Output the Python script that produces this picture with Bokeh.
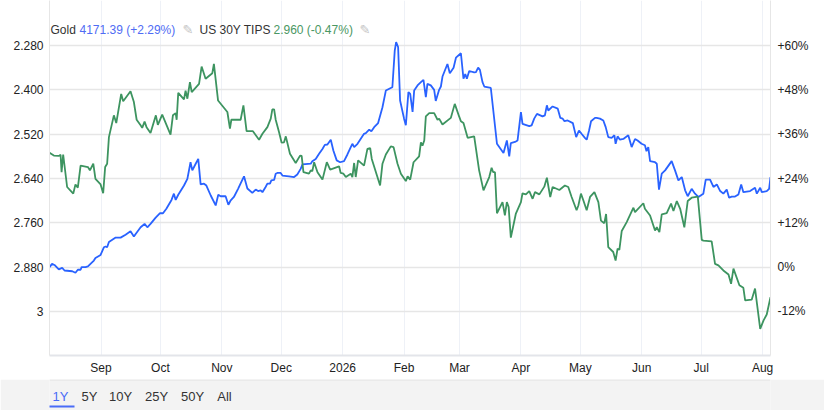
import pandas as pd
from bokeh.plotting import figure
from bokeh.models import (Range1d, LinearAxis, FixedTicker, Label, BoxAnnotation,
                          Span, ColumnDataSource)
from bokeh.layouts import column
from bokeh.embed import file_html
from bokeh.resources import INLINE

# ---------------- data ----------------
START = pd.Timestamp("2025-08-06")
SPAN_DAYS = 364

# Gold: days since START, % change since START (right axis)
gold_days = [0, 1.3, 2.5, 4.7, 6.4, 7.6, 11.5, 13.1, 14.3, 15.7, 16.2, 18.2, 19.4, 20.7, 22.4,
             23.2, 25.8, 27.5, 28.3, 29.1, 30.0, 33.4, 35.9, 38.4, 40.9, 42.6, 43.5, 46.0, 48.0,
             49.4, 51.0, 53.6, 55.8, 57.3, 59.0, 61.6, 62.8, 63.7, 65.0, 67.9, 69.6, 71.2, 72.1,
             73.8, 75.1, 76.3, 78.0, 79.2, 81.4, 83.9, 85.2, 86.4, 88.9, 90.3, 91.5, 93.1, 95.2,
             96.5, 98.2, 99.9, 102.4, 104.1, 105.3, 106.6, 107.5, 109.1, 110.0, 111.3, 112.0,
             113.4, 114.2, 115.0, 116.7, 117.6, 120.9, 123.5, 125.1, 126.8, 127.7, 131.9, 132.7,
             134.4, 136.1, 137.8, 139.0, 140.3, 142.0, 143.3, 145.0, 146.7, 148.7, 150.4, 152.1,
             152.9, 153.8, 155.5, 158.8, 159.7, 161.4, 162.5, 163.9, 165.9, 168.1, 169.8, 172.3,
             173.1, 174.3, 175.0, 176.0, 177.0, 179.0, 179.9, 181.2, 182.1, 183.3, 184.1, 185.8,
             187.5, 188.8, 190.0, 190.8, 192.5, 194.2, 195.0, 196.7, 197.6, 198.4, 200.9, 202.1,
             204.0, 205.2, 207.7, 209.0, 209.9, 210.7, 211.9, 214.4, 215.3, 216.4, 217.3, 218.6,
             219.5, 222.8, 225.9, 229.2, 230.9, 232.1, 232.9, 235.4, 236.3, 238.0, 238.8, 242.2,
             243.4, 244.7, 246.1, 248.9, 250.1, 251.1, 251.8, 254.0, 256.6, 257.9, 259.1, 260.0,
             261.6, 264.2, 265.9, 267.3, 268.6, 270.3, 271.2, 272.4, 273.4, 275.4, 276.2, 277.9,
             279.6, 280.8, 282.1, 283.8, 285.2, 285.8, 286.8, 288.0, 289.7, 292.2, 293.9, 295.6,
             296.9, 298.9, 300.6, 301.4, 302.3, 303.2, 305.7, 306.6, 307.7, 309.1, 310.8, 314.1,
             315.8, 317.5, 319.2, 320.9, 322.2, 324.2, 325.9, 327.6, 330.1, 331.3, 333.5, 335.2,
             336.9, 338.6, 340.2, 341.9, 343.1, 344.4, 346.1, 347.8, 349.2, 350.3, 353.7, 356.2,
             357.1, 358.8, 359.6, 362.1, 363.3, 364.0]
gold_pct = [0.0, 0.9, 0.6, -0.6, -0.2, -0.9, -1.1, -1.5, -0.7, -0.7, 0.0, 0.0, 0.2, 0.9, 1.8,
            2.5, 3.3, 5.4, 5.6, 5.4, 6.8, 8.0, 8.0, 8.8, 9.7, 8.3, 9.0, 10.8, 11.7,
            10.8, 11.7, 13.4, 14.6, 14.6, 15.8, 18.2, 19.9, 18.2, 19.6, 22.1, 23.9, 28.4, 26.2,
            28.0, 29.3, 22.4, 22.6, 22.1, 19.4, 16.7, 19.6, 19.2, 19.2, 16.9, 18.1, 19.0, 21.2,
            22.7, 24.6, 21.3, 20.1, 21.0, 20.6, 20.8, 20.3, 21.7, 22.6, 22.6, 23.5,
            23.6, 25.3, 25.5, 25.5, 24.8, 24.6, 24.4, 25.1, 26.6, 27.8, 28.0, 28.7,
            29.3, 30.7, 32.0, 33.1, 33.2, 34.5, 31.6, 28.9, 28.4, 28.7, 30.5, 32.5,
            33.4, 32.5, 33.4, 36.1, 36.3, 37.2, 36.8, 37.9, 39.0, 43.3, 47.8, 48.5,
            48.7, 58.6, 60.9, 59.6, 45.1, 40.2, 38.4, 47.4, 46.9, 42.0, 47.8, 49.2,
            50.1, 50.7, 46.0, 49.6, 49.2, 48.0, 45.0, 48.0, 48.9, 51.6, 55.0, 52.5,
            54.0, 56.7, 57.9, 51.0, 52.3, 51.0, 53.1, 52.7, 52.8, 54.0, 53.4, 50.1,
            48.9, 48.5, 33.4, 30.9, 34.3, 30.0, 33.6, 34.0, 34.3, 42.0, 38.8, 38.2,
            38.4, 40.2, 41.5, 40.8, 41.1, 43.8, 42.4, 43.5, 42.9, 40.4, 40.2, 39.5,
            39.7, 39.0, 35.2, 37.0, 36.1, 35.0, 34.5, 37.0, 39.5, 40.4, 40.4, 40.2,
            39.7, 37.9, 35.2, 35.0, 35.7, 33.4, 35.4, 34.5, 34.7, 35.7, 32.5, 34.7,
            34.3, 33.4, 33.0, 31.4, 32.5, 28.7, 28.4, 28.0, 21.0, 25.3, 26.2, 28.7,
            26.2, 23.5, 24.4, 20.8, 19.2, 21.2, 19.9, 19.0, 19.9, 23.7, 23.7, 21.7,
            22.4, 20.6, 19.9, 21.0, 18.8, 19.1, 19.1, 19.7, 22.4, 20.3, 20.6, 21.5,
            19.9, 21.5, 20.3, 20.6, 21.2, 24.4]

# US 30Y TIPS: days since START, yield (left axis, inverted)
tips_days = [0, 2.2, 4.7, 5.6, 6.1, 6.9, 8.9, 12.0, 13.1, 14.3, 15.7, 19.4, 20.4, 22.1, 23.2,
             25.8, 27.1, 28.1, 29.1, 30.0, 32.5, 33.7, 36.2, 37.2, 40.9, 42.6, 44.0, 46.0, 46.8,
             48.0, 49.0, 51.0, 53.7, 54.7, 56.9, 61.1, 62.3, 63.7, 64.2, 65.0, 67.9, 68.7, 69.6,
             70.9, 71.8, 75.5, 76.8, 78.8, 82.2, 83.0, 85.1, 89.8, 91.1, 91.8, 96.5, 97.9, 99.5,
             102.7, 105.8, 107.5, 110.0, 111.7, 112.5, 113.4, 114.2, 115.9, 117.2, 118.4, 119.3,
             121.4, 124.3, 126.5, 127.3, 128.2, 131.0, 131.9, 132.7, 133.6, 135.3, 137.8, 140.0,
             141.7, 146.2, 147.0, 148.4, 149.6, 152.1, 152.9, 153.8, 154.6, 155.8, 158.8, 160.5,
             161.9, 162.7, 166.9, 168.1, 169.8, 172.3, 173.7, 175.7, 177.4, 179.9, 180.8, 182.1,
             183.8, 186.6, 187.5, 188.3, 189.2, 190.0, 191.7, 194.2, 195.9, 196.7, 198.4, 202.6,
             204.6, 206.8, 207.7, 209.0, 211.1, 214.4, 216.9, 219.1, 222.0, 223.2, 224.0, 224.9,
             225.9, 228.7, 229.9, 230.9, 231.8, 232.9, 235.4, 238.0, 238.8, 240.5, 242.2, 243.9,
             245.1, 247.3, 249.8, 251.1, 252.8, 254.0, 257.4, 260.2, 261.9, 263.6, 266.1, 267.0,
             268.3, 269.5, 271.2, 272.9, 275.1, 277.1, 278.4, 280.1, 281.0, 282.1, 284.6, 285.8,
             286.8, 287.7, 288.9, 291.4, 294.8, 295.6, 299.8, 300.6, 303.2, 305.7, 306.6, 307.9,
             309.1, 311.6, 313.8, 315.0, 316.7, 318.4, 320.5, 322.2, 324.2, 327.3, 329.3, 330.1,
             334.3, 336.0, 337.7, 340.2, 342.8, 344.1, 345.3, 348.3, 350.3, 351.2, 354.5, 356.2,
             358.8, 360.5, 362.1, 364.0]
tips_yield = [2.570, 2.578, 2.579, 2.576, 2.623, 2.575, 2.663, 2.681, 2.656, 2.665, 2.605, 2.609,
              2.618, 2.600, 2.641, 2.656, 2.680, 2.609, 2.600, 2.528, 2.469, 2.490, 2.411, 2.431,
              2.404, 2.433, 2.481, 2.496, 2.503, 2.486, 2.501, 2.517, 2.469, 2.495, 2.467, 2.521,
              2.469, 2.463, 2.481, 2.408, 2.426, 2.402, 2.424, 2.379, 2.406, 2.384, 2.337, 2.370,
              2.355, 2.330, 2.429, 2.460, 2.505, 2.481, 2.481, 2.442, 2.512, 2.512, 2.535, 2.519,
              2.501, 2.478, 2.453, 2.453, 2.481, 2.515, 2.543, 2.542, 2.526, 2.573, 2.598, 2.578,
              2.579, 2.623, 2.627, 2.618, 2.620, 2.596, 2.623, 2.643, 2.596, 2.616, 2.607, 2.625,
              2.627, 2.636, 2.627, 2.636, 2.598, 2.636, 2.591, 2.605, 2.560, 2.558, 2.587, 2.659,
              2.600, 2.575, 2.553, 2.555, 2.600, 2.627, 2.647, 2.634, 2.643, 2.596, 2.580, 2.542,
              2.551, 2.537, 2.472, 2.463, 2.463, 2.481, 2.478, 2.494, 2.476, 2.438, 2.472, 2.485,
              2.490, 2.530, 2.526, 2.618, 2.672, 2.636, 2.611, 2.623, 2.623, 2.734, 2.704, 2.740,
              2.704, 2.717, 2.800, 2.736, 2.704, 2.680, 2.683, 2.674, 2.695, 2.677, 2.683, 2.662,
              2.638, 2.690, 2.663, 2.671, 2.659, 2.663, 2.690, 2.726, 2.713, 2.681, 2.699, 2.726,
              2.690, 2.677, 2.704, 2.754, 2.761, 2.736, 2.826, 2.839, 2.862, 2.830, 2.833, 2.782,
              2.758, 2.719, 2.731, 2.707, 2.722, 2.740, 2.781, 2.772, 2.785, 2.737, 2.734, 2.708,
              2.728, 2.701, 2.722, 2.772, 2.701, 2.692, 2.689, 2.806, 2.808, 2.810, 2.871, 2.875,
              2.889, 2.900, 2.925, 2.884, 2.929, 2.936, 2.970, 2.968, 2.938, 3.047, 3.024, 3.008,
              2.961]

month_starts = ["2025-09-01", "2025-10-01", "2025-11-01", "2025-12-01", "2026-01-01",
                "2026-02-01", "2026-03-01", "2026-04-01", "2026-05-01", "2026-06-01",
                "2026-07-01", "2026-08-01"]
month_labels = ["Sep", "Oct", "Nov", "Dec", "2026", "Feb", "Mar", "Apr", "May", "Jun",
                "Jul", "Aug"]

yield_ticks = [2.28, 2.40, 2.52, 2.64, 2.76, 2.88, 3.0]
yield_labels = ["2.280", "2.400", "2.520", "2.640", "2.760", "2.880", "3"]
pct_ticks = [-12, 0, 12, 24, 36, 48, 60]
pct_labels = ["-12%", "0%", "+12%", "+24%", "+36%", "+48%", "+60%"]

range_buttons = ["1Y", "5Y", "10Y", "25Y", "50Y", "All"]

gold_name, gold_value, gold_change = "Gold", "4171.39", "(+2.29%)"
tips_name, tips_value, tips_change = "US 30Y TIPS", "2.960", "(-0.47%)"

# ---------------- styling ----------------
FONT = "Liberation Sans"
BLUE = "#2962ff"
GREEN = "#3d9460"
TXT = "#222222"

gold_src = ColumnDataSource(dict(
    date=START + pd.to_timedelta(gold_days, unit="D"), pct=gold_pct))
tips_src = ColumnDataSource(dict(
    date=START + pd.to_timedelta(tips_days, unit="D"), yld=tips_yield))

p = figure(width=824, height=379, x_axis_type="datetime",
           x_range=Range1d(START, START + pd.Timedelta(days=SPAN_DAYS)),
           y_range=Range1d(3.11911, 2.15819),
           output_backend="svg", toolbar_location=None,
           min_border_left=49, min_border_right=54, min_border_top=0, min_border_bottom=24)
p.extra_y_ranges = {"pct": Range1d(-23.910, 72.181)}
p.background_fill_color = "white"
p.border_fill_color = "white"
p.outline_line_color = None

month_ms = [int(pd.Timestamp(d).value // 10**6) for d in month_starts]


def style_axis(ax, standoff):
    ax.major_tick_line_color = None
    ax.minor_tick_line_color = None
    ax.major_tick_out = 0
    ax.major_tick_in = 0
    ax.minor_tick_out = 0
    ax.minor_tick_in = 0
    ax.major_label_standoff = standoff
    ax.major_label_text_font = FONT
    ax.major_label_text_font_size = "12px"
    ax.major_label_text_color = TXT


# x axis
xa = p.xaxis[0]
xa.ticker = FixedTicker(ticks=month_ms)
xa.major_label_overrides = {m: l for m, l in zip(month_ms, month_labels)}
xa.axis_line_color = "#e3e5ea"
xa.axis_line_width = 2
style_axis(xa, 5)

# left axis (yield, inverted)
ya = p.yaxis[0]
ya.ticker = FixedTicker(ticks=yield_ticks)
ya.major_label_overrides = {t: l for t, l in zip(yield_ticks, yield_labels)}
ya.axis_line_color = "#e6e6e6"
style_axis(ya, 6)

# right axis (percent)
ra = LinearAxis(y_range_name="pct", ticker=FixedTicker(ticks=pct_ticks))
ra.major_label_overrides = {t: l for t, l in zip(pct_ticks, pct_labels)}
ra.axis_line_color = "#e6e6e6"
style_axis(ra, 7)
p.add_layout(ra, "right")

# grids
p.xgrid.ticker = FixedTicker(ticks=month_ms)
p.xgrid.grid_line_color = "#eef1f7"
p.xgrid.grid_line_width = 1
p.ygrid.ticker = FixedTicker(ticks=yield_ticks)
p.ygrid.grid_line_color = "#e6e6e6"
p.ygrid.grid_line_width = 1.6

# series
p.line(x="date", y="pct", source=gold_src, y_range_name="pct",
       line_color=BLUE, line_width=1.8)
p.line(x="date", y="yld", source=tips_src,
       line_color=GREEN, line_width=1.8)


def lab(fig, x, y, text, color, size="12px", font=FONT, align="left",
        baseline="alphabetic"):
    fig.add_layout(Label(x=x, y=y, x_units="screen", y_units="screen", text=text,
                         text_color=color, text_font=font, text_font_size=size,
                         text_align=align, text_baseline=baseline))


# legend strip (frame-relative screen units)
LEG_Y = 326
lab(p, 1, LEG_Y, gold_name, "#333333")
lab(p, 30, LEG_Y, f"{gold_value} {gold_change}", "#4f6cf4")
lab(p, 133, LEG_Y, "\u270e", "#c4c4c4", size="13px", font="DejaVu Sans")
lab(p, 150, LEG_Y, tips_name, "#333333")
lab(p, 224, LEG_Y, f"{tips_value} {tips_change}", "#4a9763")
lab(p, 310, LEG_Y, "\u270e", "#c4c4c4", size="13px", font="DejaVu Sans")

# bottom range bar (its frame is aligned with the chart frame by the column layout)
bar = figure(width=824, height=31, x_range=Range1d(0, 1), y_range=Range1d(0, 31),
             x_axis_location=None, y_axis_location=None,
             output_backend="svg", toolbar_location=None,
             min_border=0, min_border_left=0, min_border_right=0,
             min_border_top=0, min_border_bottom=0)
bar.grid.visible = False
bar.background_fill_color = "#f3f3f3"
bar.border_fill_color = "#f3f3f3"
bar.outline_line_color = None
bar.add_layout(Span(location=30.5, dimension="width", line_color="#e2e2e2", line_width=1))

btn_x = [11, 40, 71, 107, 143, 175]   # offsets from the frame's left edge
for i, (bx, t) in enumerate(zip(btn_x, range_buttons)):
    lab(bar, bx, 14.5, t, "#4a6cf7" if i == 0 else "#333333", size="13px",
        align="center", baseline="middle")
bar.add_layout(BoxAnnotation(left=-4, right=25, bottom=3, top=5,
                             left_units="screen", right_units="screen",
                             bottom_units="screen", top_units="screen",
                             fill_color="#4a6cf7", fill_alpha=1, line_alpha=0))

layout = column(p, bar, spacing=0)
open("out.html", "w").write(file_html(layout, INLINE))
